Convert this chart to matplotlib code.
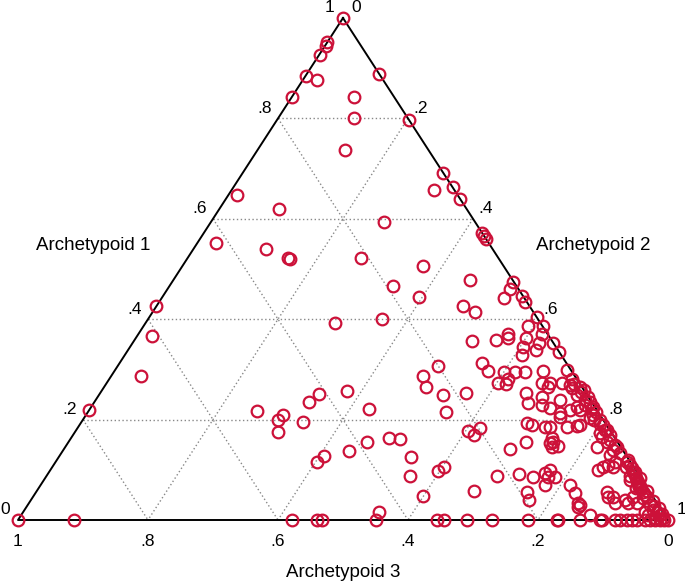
# ternary plot of archetypoid shares
import matplotlib
matplotlib.use('Agg')
import matplotlib.pyplot as plt
import numpy as np

# share of Archetypoid 1 for each observation (vertical axis of the triangle)
arch1 = [
	1.0, 0.952, 0.944, 0.926, 0.884, 0.876, 0.843, 0.888, 0.843, 0.801,
	0.797, 0.737, 0.691, 0.657, 0.663, 0.639, 0.647, 0.620, 0.594, 0.572,
	0.566, 0.560, 0.552, 0.540, 0.522, 0.520, 0.522, 0.506, 0.466, 0.444,
	0.478, 0.426, 0.414, 0.400, 0.392, 0.426, 0.367, 0.287, 0.219,
	# right hand cluster
	0.474, 0.460, 0.442, 0.446, 0.434, 0.404, 0.386, 0.386, 0.371, 0.353,
	0.335, 0.371, 0.363, 0.359, 0.357, 0.363, 0.353, 0.345, 0.329, 0.339,
	0.313, 0.297, 0.307, 0.287, 0.265, 0.295, 0.295, 0.295, 0.297, 0.299,
	0.273, 0.271, 0.281,
	# middle
	0.257, 0.221, 0.155, 0.137, 0.163, 0.161, 0.125, 0.088, 0.048, 0.016,
	0.249, 0.215, 0.253, 0.177, 0.169, 0.183, 0.098, 0.106, 0.058, 0.088,
	0.141, 0.092, 0.155, 0.253, 0.233, 0.193, 0.056, 0.040,
	0.217, 0.199, 0.209, 0.175, 0.195, 0.235, 0.251, 0.116, 0.127,
	# dense corner
	0.273, 0.273, 0.265, 0.273, 0.269, 0.263, 0.265, 0.245, 0.229, 0.223,
	0.239, 0.213, 0.205, 0.219, 0.225, 0.219, 0.259, 0.245, 0.235, 0.225,
	0.215, 0.203, 0.189, 0.185, 0.185, 0.185, 0.187, 0.189, 0.199, 0.189,
	0.179, 0.173, 0.165, 0.179, 0.169, 0.163, 0.155, 0.153, 0.145, 0.147,
	0.145, 0.155, 0.139, 0.145, 0.133, 0.129, 0.110, 0.100, 0.106, 0.116,
	0.106,
	0.120, 0.110, 0.104, 0.096, 0.090, 0.084, 0.078, 0.072, 0.068, 0.062,
	0.056, 0.050, 0.084, 0.064, 0.080,
	0.086, 0.094, 0.100, 0.086, 0.086, 0.070, 0.070, 0.054, 0.034, 0.030,
	0.026, 0.056, 0.046, 0.046, 0.034, 0.040, 0.034, 0.046, 0.034, 0.044,
	0.030, 0.020, 0.016, 0.010, 0.004, 0.004, 0.010, 0.016, 0.0, 0.010,
	# along the right edge
	0.280, 0.270, 0.255, 0.250, 0.240, 0.230, 0.222, 0.210, 0.200, 0.192,
	0.160, 0.150,
	0.115, 0.105, 0.095, 0.088, 0.075, 0.065, 0.058, 0.045, 0.038, 0.028,
	0.024, 0.012,
	# bottom edge
	0.0, 0.0, 0.0, 0.0, 0.0, 0.0, 0.0, 0.0, 0.0, 0.0,
	0.0, 0.0, 0.0, 0.0, 0.0, 0.0, 0.0, 0.0, 0.0, 0.0,
	0.0, 0.0, 0.0, 0.0, 0.0, 0.0,
]

# share of Archetypoid 2 (Archetypoid 3 = 1 - a1 - a2)
arch2 = [
	0.0, 0.0, 0.002, 0.002, 0.001, 0.022, 0.0, 0.112, 0.095, 0.116,
	0.203, 0.135, 0.309, 0.312, 0.337, 0.361, 0.013, 0.092, 0.266, 0.428,
	0.434, 0.440, 0.029, 0.112, 0.154, 0.158, 0.267, 0.370, 0.344, 0.395,
	0.456, 0.472, 0.496, 0.360, 0.292, 0.0, 0.023, 0.046, 0.0,
	0.525, 0.527, 0.527, 0.552, 0.563, 0.596, 0.614, 0.592, 0.621, 0.647,
	0.665, 0.568, 0.572, 0.556, 0.520, 0.600, 0.625, 0.604, 0.611, 0.627,
	0.557, 0.575, 0.493, 0.480, 0.495, 0.600, 0.617, 0.633, 0.659, 0.695,
	0.602, 0.615, 0.613,
	0.378, 0.430, 0.459, 0.441, 0.489, 0.507, 0.542, 0.559, 0.599, 0.547,
	0.529, 0.551, 0.563, 0.604, 0.617, 0.619, 0.597, 0.602, 0.673, 0.693,
	0.686, 0.725, 0.704, 0.655, 0.668, 0.687, 0.755, 0.766,
	0.259, 0.300, 0.303, 0.312, 0.341, 0.330, 0.338, 0.402, 0.407,
	0.670, 0.682, 0.683, 0.700, 0.715, 0.721, 0.732, 0.684, 0.692, 0.707,
	0.714, 0.727, 0.731, 0.740, 0.748, 0.755, 0.741, 0.755, 0.762, 0.772,
	0.782, 0.779, 0.696, 0.718, 0.726, 0.752, 0.767, 0.770, 0.796, 0.806,
	0.814, 0.809, 0.816, 0.817, 0.826, 0.740, 0.746, 0.742, 0.749, 0.757,
	0.818, 0.829, 0.846, 0.849, 0.860, 0.846, 0.853, 0.842, 0.847, 0.861,
	0.862,
	0.878, 0.887, 0.893, 0.898, 0.904, 0.909, 0.913, 0.918, 0.923, 0.927,
	0.934, 0.940, 0.915, 0.919, 0.902,
	0.749, 0.764, 0.769, 0.772, 0.783, 0.776, 0.814, 0.830, 0.845, 0.850,
	0.849, 0.878, 0.885, 0.892, 0.901, 0.914, 0.921, 0.923, 0.935, 0.940,
	0.957, 0.967, 0.975, 0.983, 0.990, 0.978, 0.964, 0.957, 1.0, 0.875,
	0.712, 0.720, 0.739, 0.735, 0.752, 0.758, 0.772, 0.780, 0.786, 0.800,
	0.830, 0.844,
	0.879, 0.883, 0.901, 0.898, 0.917, 0.923, 0.938, 0.945, 0.958, 0.964,
	0.974, 0.984,
	0.0, 0.086, 0.422, 0.460, 0.468, 0.551, 0.645, 0.655, 0.691, 0.729,
	0.785, 0.829, 0.831, 0.865, 0.895, 0.898, 0.918, 0.926, 0.937, 0.945,
	0.952, 0.965, 0.972, 0.980, 0.988, 0.994,
]

tick_vals = [0, 0.2, 0.4, 0.6, 0.8, 1]
tick_text = ['0', '.2', '.4', '.6', '.8', '1']

plt.rcParams['font.family'] = ['Liberation Sans', 'DejaVu Sans']

# triangle: Archetypoid 3 corner bottom left, Archetypoid 2 bottom right, Archetypoid 1 on top
def to_xy(a1, a2):
	a1 = np.asarray(a1, dtype=float)
	a2 = np.asarray(a2, dtype=float)
	return a2 + a1 / 2.0, a1

fig = plt.figure(figsize=(6.85, 5.84), dpi=100)
ax = fig.add_axes([18 / 685, 64 / 584, 650 / 685, 502 / 584])
ax.set_xlim(0, 1)
ax.set_ylim(0, 1)
ax.axis('off')

# dotted grid
grid_kw = dict(color='#888888', linestyle=(0, (1, 1.8)), linewidth=1.0, zorder=1)
for v in tick_vals[1:-1]:
	# Archetypoid 1 constant
	x, y = to_xy([v, v], [0, 1 - v])
	ax.plot(x, y, **grid_kw)
	# Archetypoid 2 constant
	x, y = to_xy([1 - v, 0], [v, v])
	ax.plot(x, y, **grid_kw)
	# Archetypoid 3 constant
	x, y = to_xy([1 - v, 0], [0, 1 - v])
	ax.plot(x, y, **grid_kw)

# outline
x, y = to_xy([1, 0, 0, 1], [0, 0, 1, 0])
ax.plot(x, y, color='black', linewidth=1.4, zorder=2, clip_on=False)

# points
px, py = to_xy(arch1, arch2)
ax.plot(px, py, linestyle='none', marker='o', markersize=8.4, markerfacecolor='none',
	markeredgecolor='#CC1139', markeredgewidth=1.6, zorder=3, clip_on=False)

# tick labels
for v, t in zip(tick_vals, tick_text):
	# left side (Archetypoid 1)
	x, y = to_xy(v, 0)
	ax.text(x - 0.02, y + 0.02, t, fontsize=12.5, ha='center', va='center')
	# right side (Archetypoid 2)
	x, y = to_xy(1 - v, v)
	ax.text(x + 0.02, y + 0.02, t, fontsize=12.5, ha='center', va='center')
	# bottom (Archetypoid 3)
	x, y = to_xy(0, 1 - v)
	ax.text(x, -0.042, t, fontsize=12.5, ha='center', va='center')

ax.text(0.115, 0.546, 'Archetypoid 1', fontsize=13.5, ha='center', va='center')
ax.text(0.885, 0.546, 'Archetypoid 2', fontsize=13.5, ha='center', va='center')
ax.text(0.5, -0.104, 'Archetypoid 3', fontsize=13.5, ha='center', va='center')

fig.savefig('out.png', dpi=100)
